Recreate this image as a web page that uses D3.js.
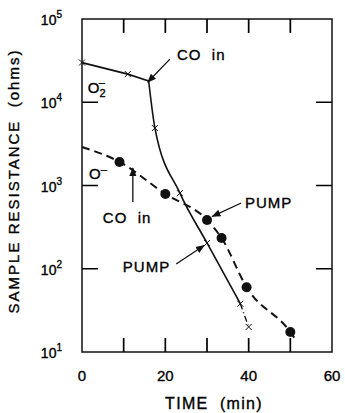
<!DOCTYPE html>
<html>
<head>
<meta charset="utf-8">
<script src="https://cdn.jsdelivr.net/npm/d3@7"></script>
<style>
  body { margin: 0; background: #fff; }
  text { font-family: "Liberation Sans", Arial, sans-serif; fill: #000; stroke: #000; stroke-width: 0.35px; }
</style>
</head>
<body>
<div id="chart"></div>
<script>
// data
var timeSolid = [0, 11, 16, 17.5, 23.5, 30, 38, 40];
var resSolid = [30000, 21800, 18000, 4900, 810, 204, 38, 20];
var crossSolid = [1, 1, 0, 1, 1, 1, 1, 1];

var timeDashed = [0, 9, 20, 30, 33.5, 39.5, 50, 51.5];
var resDashed = [2900, 1920, 790, 385, 234, 60, 17.4, 13.5];
var dotDashed = [0, 1, 1, 1, 1, 1, 1, 0];

var xTicks = [0, 20, 40, 60];
var xMinor = [10, 20, 30, 40, 50];
var yTicks = [10, 100, 1000, 10000, 100000];
var yExp = ["1", "2", "3", "4", "5"];
var yInner = [100, 1000, 10000];

var width = 345, height = 413;
var svg = d3.select("#chart").append("svg")
    .attr("width", width)
    .attr("height", height);

var x = d3.scaleLinear().domain([0, 60]).range([82, 332]);
var y = d3.scaleLog().domain([10, 100000]).range([352, 19]);

// frame
svg.append("rect")
    .attr("x", x(0)).attr("y", y(100000))
    .attr("width", x(60) - x(0)).attr("height", y(10) - y(100000))
    .attr("fill", "none").attr("stroke", "#111").attr("stroke-width", 1.5);

// tick labels
svg.append("g").selectAll("text")
  .data(xTicks)
  .join("text")
    .attr("x", d => x(d)).attr("y", 381)
    .attr("text-anchor", "middle")
    .attr("font-size", 15)
    .text(d => d);

var yl = svg.append("g").selectAll("text")
  .data(yTicks)
  .join("text")
    .attr("x", 62).attr("y", d => y(d) + 6)
    .attr("text-anchor", "end")
    .attr("font-size", 14);
yl.append("tspan").text("10");
yl.append("tspan").attr("font-size", 10).attr("dy", -7).text((d, i) => yExp[i]);

// axis titles
svg.append("text")
    .attr("x", 214).attr("y", 409)
    .attr("text-anchor", "middle")
    .attr("font-size", 16)
    .attr("letter-spacing", 1.3)
    .style("white-space", "pre")
    .text("TIME  (min)");

svg.append("text")
    .attr("transform", "translate(19,181) rotate(-90)")
    .attr("text-anchor", "middle")
    .attr("font-size", 15)
    .attr("letter-spacing", 2)
    .style("white-space", "pre")
    .text("SAMPLE RESISTANCE  (ohms)");

// series
var solid = timeSolid.map((t, i) => ({t: t, r: resSolid[i], m: crossSolid[i]}));
var dashed = timeDashed.map((t, i) => ({t: t, r: resDashed[i], m: dotDashed[i]}));

var lineLin = d3.line().x(d => x(d.t)).y(d => y(d.r));
var lineCurve = d3.line().x(d => x(d.t)).y(d => y(d.r)).curve(d3.curveMonotoneX);

svg.append("path").datum(solid.slice(0, 3))
    .attr("d", lineLin).attr("fill", "none").attr("stroke", "#111").attr("stroke-width", 1.8);
svg.append("path").datum(solid.slice(2, 7))
    .attr("d", lineCurve).attr("fill", "none").attr("stroke", "#111").attr("stroke-width", 1.6);
svg.append("path").datum(solid.slice(6))
    .attr("d", lineLin).attr("fill", "none").attr("stroke", "#111").attr("stroke-width", 1.4)
    .attr("stroke-dasharray", "6,3,1,3");

svg.append("path").datum(dashed)
    .attr("d", lineCurve).attr("fill", "none").attr("stroke", "#111").attr("stroke-width", 2)
    .attr("stroke-dasharray", "8,5");

// markers
svg.append("g").selectAll("path")
  .data(solid.filter(d => d.m))
  .join("path")
    .attr("d", d => {
      var cx = x(d.t), cy = y(d.r), s = 3;
      return "M" + (cx - s) + "," + (cy - s) + "L" + (cx + s) + "," + (cy + s) +
             "M" + (cx - s) + "," + (cy + s) + "L" + (cx + s) + "," + (cy - s);
    })
    .attr("stroke", "#111").attr("stroke-width", 1);

svg.append("g").selectAll("circle")
  .data(dashed.filter(d => d.m))
  .join("circle")
    .attr("cx", d => x(d.t)).attr("cy", d => y(d.r))
    .attr("r", 5).attr("fill", "#111");

// annotations
svg.append("defs").append("marker")
    .attr("id", "arr").attr("viewBox", "0 0 10 10")
    .attr("refX", 9).attr("refY", 5)
    .attr("markerWidth", 9).attr("markerHeight", 9)
    .attr("markerUnits", "userSpaceOnUse")
    .attr("orient", "auto")
  .append("path").attr("d", "M0,1L10,5L0,9z").attr("fill", "#111");

var notes = [
  {text: "CO in", t: 22.8, r: 32000},
  {text: "CO in", t: 5.0, r: 355},
  {text: "PUMP", t: 39.1, r: 537},
  {text: "PUMP", t: 9.8, r: 92}
];
var arrows = [
  {t1: 21.1, r1: 33000, t2: 15.8, r2: 17500},
  {t1: 12.2, r1: 634, t2: 12.2, r2: 1620},
  {t1: 38.2, r1: 616, t2: 31.3, r2: 425},
  {t1: 22.6, r1: 114, t2: 29.3, r2: 190}
];

svg.append("g").selectAll("text")
  .data(notes)
  .join("text")
    .attr("x", d => x(d.t)).attr("y", d => y(d.r))
    .attr("font-size", 15)
    .attr("letter-spacing", 1)
    .style("white-space", "pre")
    .text(d => d.text.replace(" ", "  "));

svg.append("g").selectAll("line")
  .data(arrows)
  .join("line")
    .attr("x1", d => x(d.t1)).attr("y1", d => y(d.r1))
    .attr("x2", d => x(d.t2)).attr("y2", d => y(d.r2))
    .attr("stroke", "#111").attr("stroke-width", 1.3)
    .attr("marker-end", "url(#arr)");

// ion labels
var o2 = svg.append("text").attr("x", x(1.4)).attr("y", y(12900)).attr("font-size", 15);
o2.append("tspan").text("O");
o2.append("tspan").attr("font-size", 11).attr("dy", 4).text("2");
o2.append("tspan").attr("font-size", 11).attr("dx", -7).attr("dy", -11).text("\u2013");

var o1 = svg.append("text").attr("x", x(1.7)).attr("y", y(1200)).attr("font-size", 15);
o1.append("tspan").text("O");
o1.append("tspan").attr("font-size", 11).attr("dy", -6).text("\u2013");

// inner ticks last: top/bottom every 10 min, left/right every decade
var tickPath = d3.path();
xMinor.forEach(function(t) {
  tickPath.moveTo(x(t), y(10)); tickPath.lineTo(x(t), y(10) - 14);
  tickPath.moveTo(x(t), y(100000)); tickPath.lineTo(x(t), y(100000) + 14);
});
yInner.forEach(function(v) {
  tickPath.moveTo(x(0), y(v)); tickPath.lineTo(x(0) + 16, y(v));
  tickPath.moveTo(x(60), y(v)); tickPath.lineTo(x(60) - 16, y(v));
});
svg.append("path")
    .attr("d", tickPath.toString())
    .attr("fill", "none").attr("stroke", "#000").attr("stroke-width", 1.7);
</script>
</body>
</html>
